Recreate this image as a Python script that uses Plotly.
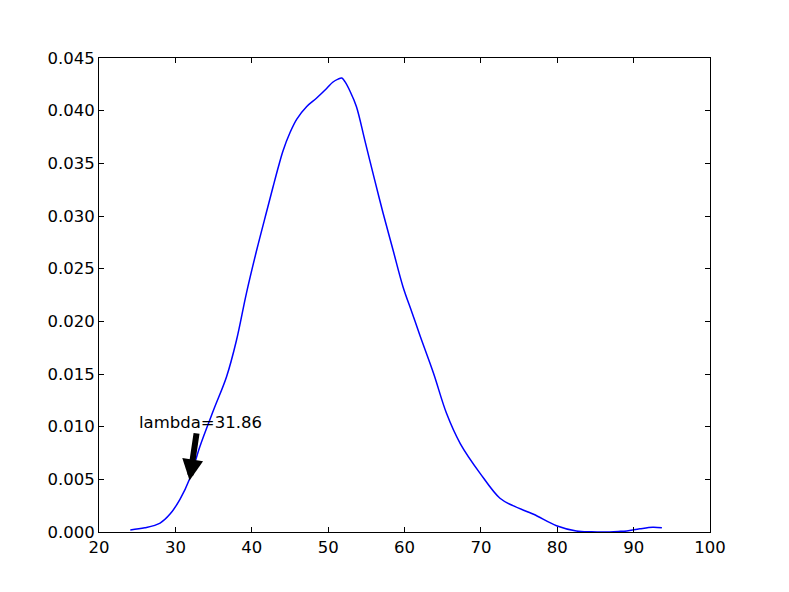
import plotly.graph_objects as go

# density curve
x_vals = [24.1, 26.0, 28.0, 29.3, 30.6, 31.9, 33.2, 35.0, 36.7, 38.0, 39.3, 40.65,
          42.0, 42.8, 43.5, 44.1, 45.0, 45.9, 47.2, 48.5, 49.8, 50.6, 51.3, 51.8, 52.2, 52.9,
          53.7, 54.8, 56.1, 57.2, 58.5, 59.8, 61.0, 62.0, 63.8, 65.5, 67.3, 69.9,
          72.5, 74.2, 76.9, 79.9, 82.5, 84.5, 86.0, 88.0, 89.1, 90.8, 92.5, 93.7]
y_vals = [0.0002, 0.0004, 0.00085, 0.0017, 0.0031, 0.0051, 0.0081, 0.01158, 0.01474,
          0.0182, 0.02266, 0.02677, 0.03057, 0.0328, 0.0347, 0.0362, 0.0379, 0.0392, 0.0404, 0.0412,
          0.0421, 0.0427, 0.0430, 0.0431, 0.04275, 0.0418, 0.0404, 0.0372, 0.0334,
          0.03026, 0.02677, 0.02329, 0.0208, 0.0187, 0.01507, 0.01127, 0.0084, 0.00557,
          0.0032, 0.0025, 0.00168, 0.0006, 0.0001, 0.00002, 0.0, 0.00005, 0.0001,
          0.0003, 0.00045, 0.0004]

lam = 31.86
label_text = "lambda=31.86"
arrow_tail = (32.8, 0.0095)
arrow_head = (lam, 0.0049)
label_pos = (25.0, 0.0104)

x_ticks = [20, 30, 40, 50, 60, 70, 80, 90, 100]
y_ticks = [0.000, 0.005, 0.010, 0.015, 0.020, 0.025, 0.030, 0.035, 0.040, 0.045]

fig = go.Figure()
fig.add_trace(go.Scatter(x=x_vals, y=y_vals, mode="lines",
                         line=dict(color="#0000ff", width=1.5, shape="spline", smoothing=1.0)))

# arrow only
fig.add_annotation(x=arrow_head[0], y=arrow_head[1], ax=arrow_tail[0], ay=arrow_tail[1],
                   xref="x", yref="y", axref="x", ayref="y", text="", showarrow=True,
                   arrowhead=2, arrowsize=0.7, arrowwidth=6, arrowcolor="black")
# label
fig.add_annotation(x=label_pos[0], y=label_pos[1], xref="x", yref="y", text=label_text,
                   showarrow=False, xanchor="left", yanchor="middle",
                   font=dict(size=16.5, color="black"))

axis_style = dict(showgrid=False, zeroline=False, showline=True, linecolor="black", linewidth=1,
                  mirror="ticks", ticks="inside", ticklen=5, tickcolor="black", tickwidth=1,
                  tickfont=dict(size=16.5, color="black"))

fig.update_xaxes(range=[20, 100], tickvals=x_ticks, ticktext=[str(t) for t in x_ticks], **axis_style)
fig.update_yaxes(range=[0, 0.045], tickvals=y_ticks, ticktext=["%.3f" % t for t in y_ticks], **axis_style)

fig.update_layout(width=789, height=592, margin=dict(l=91, r=87, t=50, b=68),
                  plot_bgcolor="white", paper_bgcolor="white", showlegend=False,
                  font=dict(family="DejaVu Sans", color="black"))

fig.write_html("out.html")
